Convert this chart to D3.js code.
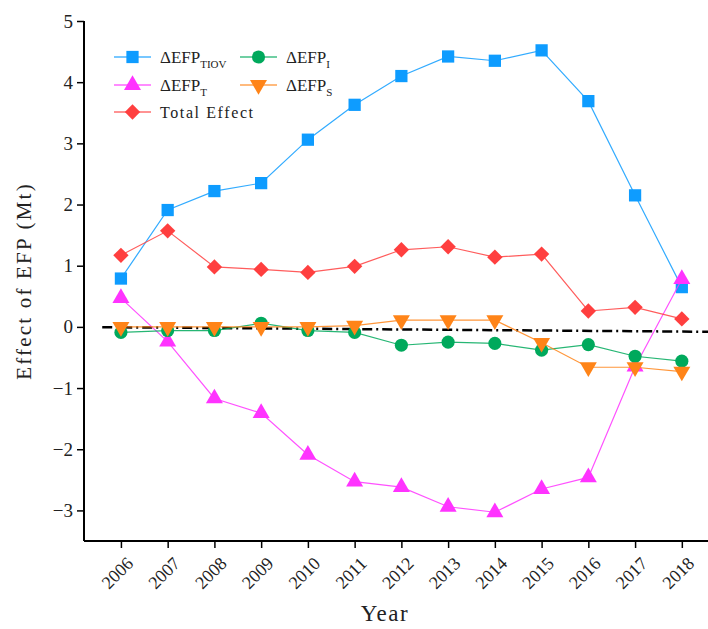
<!DOCTYPE html>
<html>
<head>
<meta charset="utf-8">
<script src="https://cdn.jsdelivr.net/npm/d3@7"></script>
<style>
  body { margin: 0; background: #fff; }
  svg { display: block; }
</style>
</head>
<body>
<svg id="chart" width="708" height="629"></svg>
<script>
// values
var years = [2006, 2007, 2008, 2009, 2010, 2011, 2012, 2013, 2014, 2015, 2016, 2017, 2018];
var efpTIOV = [0.79, 1.91, 2.22, 2.35, 3.06, 3.63, 4.10, 4.42, 4.35, 4.52, 3.69, 2.15, 0.65];
var efpT = [0.47, -0.24, -1.17, -1.41, -2.09, -2.53, -2.62, -2.94, -3.03, -2.65, -2.46, -0.65, 0.78];
var totalEffect = [1.17, 1.57, 0.98, 0.94, 0.89, 0.99, 1.26, 1.31, 1.14, 1.19, 0.26, 0.32, 0.13];
var efpI = [-0.09, -0.06, -0.06, 0.06, -0.06, -0.09, -0.30, -0.25, -0.27, -0.38, -0.29, -0.48, -0.56];
var efpS = [0.00, 0.00, 0.00, 0.00, 0.00, 0.02, 0.11, 0.11, 0.11, -0.26, -0.66, -0.66, -0.73];
var trendX = [2005.6, 2018.6];
var trendY = [-0.005, -0.08];
var yTicks = [-3, -2, -1, 0, 1, 2, 3, 4, 5];

var series = [
    { name: "TIOV", label: ["ΔEFP", "TIOV"], values: efpTIOV, color: "#0E9CFF", shape: "square" },
    { name: "T", label: ["ΔEFP", "T"], values: efpT, color: "#FF33FF", shape: "up" },
    { name: "Total", label: ["Total Effect", ""], values: totalEffect, color: "#FF3F3F", shape: "diamond" },
    { name: "I", label: ["ΔEFP", "I"], values: efpI, color: "#00A95C", shape: "circle" },
    { name: "S", label: ["ΔEFP", "S"], values: efpS, color: "#FF8418", shape: "down" }
];

var svg = d3.select("#chart");
var serif = "'Liberation Serif', 'DejaVu Serif', serif";

var x = d3.scaleLinear().domain([2005.21, 2018.56]).range([84, 708]);
var y = d3.scaleLinear().domain([-3.5, 5]).range([541, 21]);

function symbolPath(shape) {
    var gen = d3.symbol();
    if (shape === "square") return gen.type(d3.symbolSquare).size(150)();
    if (shape === "circle") return gen.type(d3.symbolCircle).size(135)();
    if (shape === "diamond") return gen.type(d3.symbolSquare).size(118)();
    return gen.type(d3.symbolTriangle).size(125)();
}
function symbolRotate(shape) {
    if (shape === "diamond") return 45;
    if (shape === "down") return 180;
    return 0;
}

// axes
var yAxis = svg.append("g")
    .attr("transform", "translate(84,0)")
    .call(d3.axisLeft(y).tickValues(yTicks).tickSize(7).tickPadding(4)
        .tickFormat(function(d) { return d < 0 ? "\u2212" + Math.abs(d) : d; }));
yAxis.select(".domain").attr("stroke-width", 2).attr("d", "M0," + y(5) + "V" + y(-3.5));
yAxis.selectAll(".tick line").attr("stroke-width", 1.5);
yAxis.selectAll("text").attr("font-family", serif).attr("font-size", 19).attr("fill", "#222");

var xAxis = svg.append("g")
    .attr("transform", "translate(0,541)")
    .call(d3.axisBottom(x).tickValues(years).tickSize(7).tickFormat(d3.format("d")));
xAxis.select(".domain").attr("stroke-width", 2).attr("d", "M84,0H708");
xAxis.selectAll(".tick line").attr("stroke-width", 1.5);
xAxis.selectAll("text")
    .attr("font-family", serif).attr("font-size", 18).attr("fill", "#222")
    .attr("text-anchor", "middle").attr("dominant-baseline", "central")
    .attr("x", -4).attr("y", 32).attr("dy", null)
    .attr("transform", "rotate(-45,-4,32)");

// trend line
svg.append("line")
    .attr("x1", x(trendX[0])).attr("y1", y(trendY[0]))
    .attr("x2", x(trendX[1])).attr("y2", y(trendY[1]))
    .attr("stroke", "#000").attr("stroke-width", 2.5)
    .attr("stroke-dasharray", "10,4,2,4");

// series
var line = d3.line()
    .x(function(d, i) { return x(years[i]); })
    .y(function(d) { return y(d); });

series.forEach(function(s) {
    svg.append("path")
        .attr("d", line(s.values))
        .attr("fill", "none")
        .attr("stroke", s.color)
        .attr("stroke-opacity", 0.85)
        .attr("stroke-width", 1.2);
    svg.append("g").selectAll("path")
        .data(s.values)
        .enter().append("path")
        .attr("d", symbolPath(s.shape))
        .attr("fill", s.color)
        .attr("transform", function(d, i) {
            return "translate(" + x(years[i]) + "," + y(d) + ") rotate(" + symbolRotate(s.shape) + ")";
        });
});

// legend: two columns, column-major order
var legendPos = [[114, 57], [114, 85], [114, 112], [240, 57], [240, 85]];
series.forEach(function(s, i) {
    var lx = legendPos[i][0], ly = legendPos[i][1];
    var g = svg.append("g").attr("transform", "translate(" + lx + "," + ly + ")");
    g.append("line").attr("x1", 0).attr("x2", 37).attr("y1", 0).attr("y2", 0)
        .attr("stroke", s.color).attr("stroke-opacity", 0.75).attr("stroke-width", 1.5);
    g.append("path").attr("d", symbolPath(s.shape))
        .attr("transform", "translate(18.5,0) rotate(" + symbolRotate(s.shape) + ")")
        .attr("fill", s.color);
    var t = g.append("text").attr("x", 46).attr("y", 6)
        .attr("font-family", serif).attr("fill", "#222");
    if (s.label[1] === "") {
        t.attr("font-size", 16).attr("letter-spacing", 1.6).text(s.label[0]);
    } else {
        t.attr("font-size", 17).append("tspan").text(s.label[0]);
        t.append("tspan").attr("font-size", 11).attr("dy", 5).text(s.label[1]);
    }
});

// axis titles
svg.append("text")
    .attr("transform", "translate(31,281) rotate(-90)")
    .attr("text-anchor", "middle")
    .attr("font-family", serif).attr("font-size", 21).attr("letter-spacing", 2.2)
    .attr("fill", "#222")
    .text("Effect of EFP (Mt)");

svg.append("text")
    .attr("x", 385).attr("y", 621)
    .attr("text-anchor", "middle")
    .attr("font-family", serif).attr("font-size", 23).attr("letter-spacing", 1.5)
    .attr("fill", "#222")
    .text("Year");
</script>
</body>
</html>
